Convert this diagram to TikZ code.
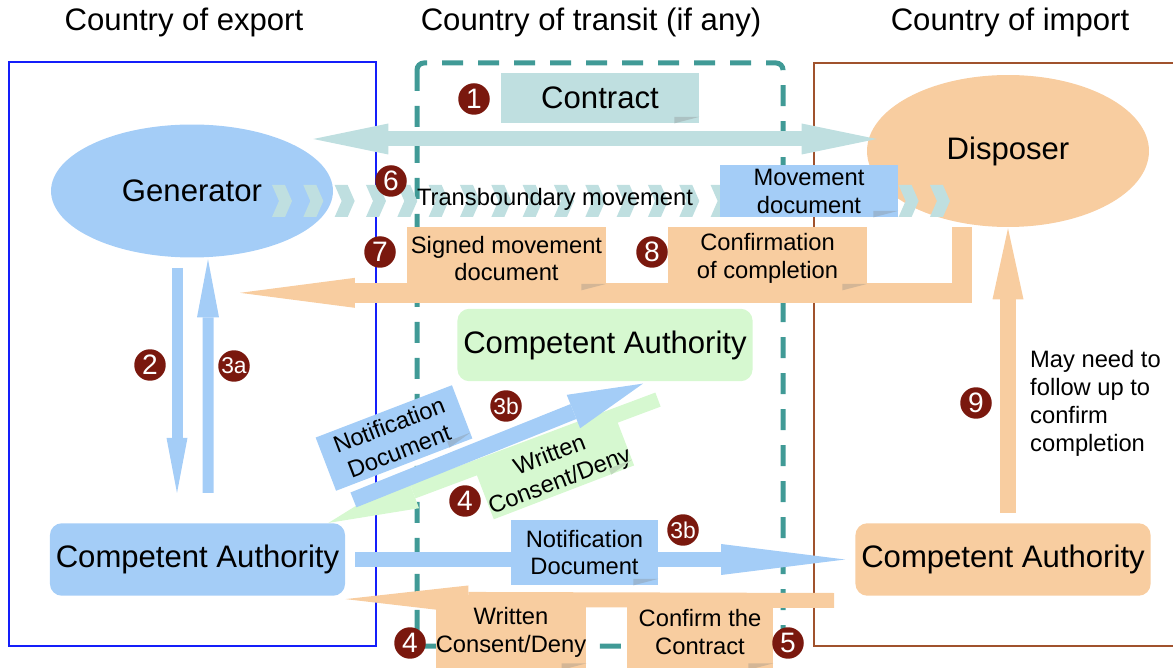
\documentclass[tikz,border=0pt]{standalone}
\usepackage{fontspec}
\setmainfont{Liberation Sans}
\usetikzlibrary{positioning,calc,shapes.geometric,arrows.meta}

\definecolor{lblue}{RGB}{164,205,247}
\definecolor{lpeach}{RGB}{248,205,160}
\definecolor{lteal}{RGB}{191,223,224}
\definecolor{lgreen}{RGB}{214,248,208}
\definecolor{dteal}{RGB}{64,154,150}
\definecolor{badgered}{RGB}{122,24,14}
\definecolor{framebrown}{RGB}{160,82,45}
\definecolor{framblue}{RGB}{20,30,250}

\newcommand{\bigfont}{\fontsize{17.7}{21}\selectfont}
\newcommand{\smallfont}{\fontsize{13.5}{15.9}\selectfont}
% darker corner fold of a label box
\newcommand{\foldcorner}[2]{%
  \coordinate (f1) at ($(#1.south east)!0.5cm!(#1.south west)$);
  \coordinate (f2) at ($(#1.south east)!0.13cm!(#1.north east)$);
  \fill[#2] (f1) -- (f2) -- ($(f1)+(f2)-(#1.south east)$) -- cycle;}

\begin{document}
\begin{tikzpicture}[x=0.02cm, y=-0.02cm,
        headnode/.style={font=\bigfont},
        gennode/.style={ellipse, fill=lblue, minimum width=5.64cm, minimum height=2.66cm, font=\bigfont},
        dispnode/.style={ellipse, fill=lpeach, minimum width=5.64cm, minimum height=3.04cm, font=\bigfont},
        authnode/.style={rectangle, rounded corners=0.24cm, minimum width=5.86cm, minimum height=1.45cm, font=\bigfont},
        docnode/.style={rectangle, inner sep=0pt, align=center, font=\smallfont},
        badge/.style={circle, fill=badgered, text=white, inner sep=0pt, minimum size=0.63cm, font=\fontsize{16}{16}\selectfont},
        badgetwo/.style={badge, font=\fontsize{13}{13}\selectfont},
        ]
        \useasboundingbox (0,0) rectangle (1173,668);

        %Frames
        \draw[framblue, line width=0.035cm] (9,62) rectangle (376,646);
        \draw[dteal, line width=0.1cm, dash pattern=on 0.42cm off 0.3cm, rounded corners=0.14cm] (417,63) rectangle (783,646);
        \draw[framebrown, line width=0.035cm] (814,63) rectangle (1190,646);

        \node[headnode] (export) at (184,22) {Country of export};
        \node[headnode] (transit) at (591,22) {Country of transit (if any)};
        \node[headnode] (import) at (1010,22) {Country of import};

        %Nodes
        \node[gennode] (gen) at (192,191) {Generator};
        \node[dispnode] (disp) at (1008,151) {Disposer};
        \node[authnode, fill=lblue] (caexp) at (197.5,559.5) {Competent Authority};
        \node[authnode, fill=lgreen] (catra) at (605,345) {Competent Authority};
        \node[authnode, fill=lpeach] (caimp) at (1003,559.5) {Competent Authority};

        %Contract
        \draw[lteal, line width=0.3cm, {Triangle[length=1.5cm,width=0.62cm,line width=0pt]}-{Triangle[length=1.5cm,width=0.62cm,line width=0pt]}]
            ($(gen.east)+(-20,-52)$) -- ($(disp.west)+(10,-12)$);
        \node[docnode, fill=lteal, font=\bigfont, minimum width=3.96cm, minimum height=1cm] (contract) at (600,98) {Contract};
        \foldcorner{contract}{lteal!70!gray}

        %Signed document back to export
        \draw[lpeach, line width=0.4cm, -{Triangle[length=2.3cm,width=0.6cm,line width=0pt]}]
            ($(disp.south)+(-46,0)$) |- ($(gen.south)+(48,35)$);
        \node[docnode, fill=lpeach, minimum width=3.98cm, minimum height=1.26cm] (signed) at (506.5,258.5) {Signed movement\\document};
        \node[docnode, fill=lpeach, minimum width=3.98cm, minimum height=1.26cm] (confirm) at (767.5,258.5) {Confirmation\\of completion};
        \foldcorner{signed}{lpeach!70!gray}
        \foldcorner{confirm}{lpeach!70!gray}

        %Transboundary movement
        \foreach \i in {0,...,21}
            \fill[lteal] ({272+31.33*\i},185) -- ++(13,0) -- ++(7,16) -- ++(-7,16) -- ++(-13,0) -- ++(7,-16) -- cycle;
        \node[font=\smallfont] (move) at (555,199) {Transboundary movement};
        \node[docnode, fill=lblue, minimum width=3.56cm, minimum height=1.04cm] (movedoc) at (809,191) {Movement\\document};
        \foldcorner{movedoc}{lblue!70!gray}

        %Export side
        \draw[lblue, line width=0.22cm, -{Triangle[length=1.1cm,width=0.42cm,line width=0pt]}]
            ($(gen.south)+(-15,10)$) -- ($(caexp.north)+(-20.5,-30)$);
        \draw[lblue, line width=0.22cm, -{Triangle[length=1.16cm,width=0.44cm,line width=0pt]}]
            ($(caexp.north)+(10.5,-30)$) -- ($(gen.south)+(16,1.5)$);

        %Transit notification and consent
        \draw[lgreen, line width=0.3cm, -{Triangle[length=1.8cm,width=0.72cm,line width=0pt]}]
            ($(catra.south)+(53,18)$) -- ($(caexp.north east)+(-17,0)$);
        \draw[lblue, line width=0.32cm, -{Triangle[length=1.5cm,width=0.72cm,line width=0pt]}]
            ($(caexp.north east)+(8,-23)$) -- ($(catra.south)+(38,2)$);
        \node[docnode, fill=lblue, rotate=21, minimum width=2.92cm, minimum height=1.14cm] (notediag) at (394,438) {Notification\\Document};
        \node[docnode, fill=lgreen, rotate=21, minimum width=2.88cm, minimum height=0.94cm] (writediag) at (555,469) {Written\\Consent/Deny};
        \foldcorner{notediag}{lblue!70!gray}
        \foldcorner{writediag}{lgreen!75!gray}

        %Import side
        \draw[lpeach, line width=0.32cm, -{Triangle[length=1.42cm,width=0.62cm,line width=0pt]}]
            ($(caimp.north)+(5,-10)$) -- ($(disp.south)+(0,1)$);
        \draw[lblue, line width=0.32cm, -{Triangle[length=2.48cm,width=0.62cm,line width=0pt]}]
            ($(caexp.east)+(10,0)$) -- ($(caimp.west)+(-10,0)$);
        \node[docnode, fill=lblue, minimum width=2.94cm, minimum height=1.3cm] (notebot) at (584.5,552.5) {Notification\\Document};
        \foldcorner{notebot}{lblue!70!gray}
        \draw[lpeach, line width=0.3cm, -{Triangle[length=2.46cm,width=0.56cm,line width=0pt]}]
            ($(caimp.west)+(-21,41)$) -- ($(caexp.south east)+(0,3)$);
        \node[docnode, fill=lpeach, minimum width=2.92cm, minimum height=1.5cm] (writebot) at (511,632) {Written\\Consent/Deny};
        \node[docnode, fill=lpeach, minimum width=2.92cm, minimum height=1.5cm] (contrbot) at (700,632) {Confirm the\\Contract};
        \foldcorner{writebot}{lpeach!70!gray}
        \foldcorner{contrbot}{lpeach!70!gray}
        \node[font=\smallfont, align=left, anchor=west] (followup) at (1024,403) {May need to\\follow up to\\confirm\\completion};

        %Steps
        \node[badge] (s1) at (474,99) {1};
        \node[badge] (s2) at (150,365) {2};
        \node[badgetwo] (s3a) at (234,366) {3a};
        \node[badgetwo] (s3b) at (506,406) {3b};
        \node[badgetwo] (s3bb) at (683,530) {3b};
        \node[badge] (s4) at (465,501) {4};
        \node[badge] (s4b) at (410,643) {4};
        \node[badge] (s5) at (788,643) {5};
        \node[badge] (s6) at (391,181) {6};
        \node[badge] (s7) at (380,252) {7};
        \node[badge] (s8) at (652,252) {8};
        \node[badge] (s9) at (976,403) {9};
    \end{tikzpicture}
\end{document}
